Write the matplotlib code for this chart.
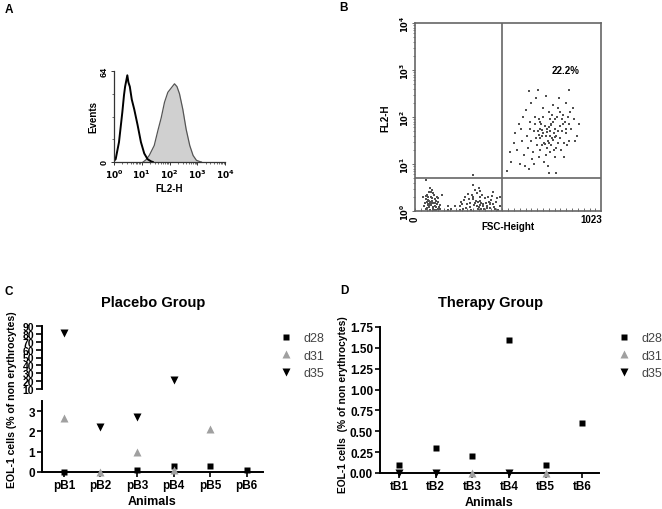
import numpy as np
import matplotlib
matplotlib.use("Agg")
import matplotlib.pyplot as plt
from matplotlib.lines import Line2D
from matplotlib.ticker import FixedLocator, NullFormatter, LogLocator

plt.rcParams['font.family'] = ['Liberation Sans', 'DejaVu Sans']

# ---------------- data ----------------
# Panel A: histograms (log10 FL2-H, events)
open_logx = [-0.05, 0.06, 0.18, 0.30, 0.36, 0.40, 0.44, 0.48, 0.52, 0.57, 0.64, 0.73, 0.85, 0.97, 1.09, 1.21, 1.33, 1.40]
open_cnt = [0, 2, 14, 35, 47, 53, 57, 61, 56, 53, 44, 37, 26, 14, 6, 2, 0.5, 0]
fill_logx = [1.05, 1.15, 1.27, 1.45, 1.58, 1.70, 1.82, 1.94, 2.06, 2.18, 2.27, 2.36, 2.48, 2.60, 2.73, 2.85, 2.97, 3.09, 3.15]
fill_cnt = [0, 1.5, 4.6, 11.6, 22, 31, 42, 49, 52, 55, 53, 48, 37, 23, 11.6, 4.6, 1.2, 0.3, 0]

# Panel B: dot plot (FSC-Height, log10 FL2-H)
c1_x = [640, 655, 670, 685, 700, 715, 730, 745, 760, 775, 690, 705, 720, 735, 750, 765, 780, 795, 810, 825,
        600, 615, 630, 645, 660, 675, 710, 725, 740, 755, 770, 785, 800, 815, 830, 845, 860, 875, 890, 900,
        560, 575, 590, 605, 620, 635, 650, 665, 680, 695, 712, 728, 742, 758, 772, 788, 803, 818, 833, 848,
        530, 545, 585, 610, 625, 640, 655, 668, 682, 698, 718, 732, 748, 762, 778, 792, 808, 822, 838, 855,
        505, 520, 550, 570, 595, 628, 662, 688, 702, 722, 738, 752, 768, 784, 798, 812, 828, 842, 868, 880,
        738, 775, 674, 848, 705, 690, 745, 725, 760, 700, 735, 680, 770, 715, 750]
c1_ly = [1.50, 1.70, 1.40, 1.90, 1.60, 1.80, 1.50, 1.70, 1.90, 1.60, 1.30, 2.00, 1.20, 2.10, 1.40, 1.30, 2.00, 1.80, 1.70, 1.90,
         1.20, 1.60, 1.90, 1.10, 2.00, 1.70, 1.45, 1.75, 1.95, 1.55, 1.75, 1.45, 1.55, 2.05, 1.65, 1.85, 1.75, 1.95, 1.60, 1.85,
         1.30, 1.00, 1.50, 0.95, 1.35, 1.75, 1.25, 1.55, 1.15, 1.85, 1.05, 1.35, 1.25, 2.25, 1.15, 2.20, 1.30, 1.45, 2.30, 1.50,
         1.05, 1.45, 1.75, 2.15, 0.90, 2.30, 1.00, 2.40, 1.95, 1.40, 2.45, 0.95, 1.85, 1.65, 1.35, 2.40, 1.95, 1.15, 1.40, 2.10,
         0.85, 1.25, 1.65, 1.85, 2.00, 2.55, 1.85, 1.75, 2.20, 1.60, 1.45, 2.05, 1.95, 1.70, 2.10, 1.85, 1.75, 2.00, 2.20, 1.50,
         0.80, 0.80, 2.58, 2.58, 1.65, 1.55, 1.60, 1.68, 1.52, 1.72, 1.78, 1.62, 1.58, 1.42, 1.82]
c2_x = [50, 58, 62, 66, 70, 74, 78, 82, 86, 90, 94, 98, 102, 106, 110, 114, 118, 122, 126, 130, 135, 140,
        55, 60, 64, 68, 72, 76, 80, 84, 88, 92, 96, 100, 104, 108, 112, 116, 120, 124, 128,
        45, 82, 95, 59, 150, 180, 70, 85, 100, 75]
c2_ly = [0.10, 0.25, 0.05, 0.35, 0.15, 0.30, 0.08, 0.20, 0.40, 0.12, 0.28, 0.05, 0.18, 0.33, 0.10, 0.22, 0.02, 0.15, 0.27, 0.08, 0.12, 0.04,
         0.18, 0.32, 0.20, 0.07, 0.24, 0.40, 0.13, 0.03, 0.30, 0.22, 0.16, 0.38, 0.02, 0.26, 0.17, 0.08, 0.30, 0.05, 0.20,
         0.30, 0.50, 0.45, 0.65, 0.35, 0.10, 0.12, 0.16, 0.09, 0.21]
c3_x = [245, 255, 265, 275, 285, 295, 305, 315, 325, 335, 345, 355, 365, 375, 385, 395, 405, 415, 425, 435, 445, 455,
        250, 260, 270, 280, 290, 300, 310, 320, 330, 340, 350, 360, 370, 380, 390, 400, 410, 420, 430, 440, 450,
        330, 350, 360, 320, 430, 200, 220, 180, 470, 465, 320, 345, 355, 365, 340, 321, 375, 395, 410]
c3_ly = [0.10, 0.20, 0.05, 0.30, 0.15, 0.25, 0.08, 0.35, 0.12, 0.22, 0.04, 0.30, 0.18, 0.10, 0.28, 0.06, 0.20, 0.14, 0.32, 0.09, 0.20, 0.03,
         0.02, 0.14, 0.24, 0.06, 0.36, 0.18, 0.02, 0.26, 0.16, 0.38, 0.08, 0.22, 0.34, 0.04, 0.16, 0.30, 0.07, 0.24, 0.15, 0.05, 0.27,
         0.45, 0.50, 0.42, 0.55, 0.40, 0.05, 0.10, 0.02, 0.10, 0.30, 0.30, 0.20, 0.12, 0.05, 0.10, 0.76, 0.14, 0.11, 0.18]
quad_x = 478
quad_y = 5.0
pct_label = "22.2%"

# Panels C and D
days = ["d28", "d31", "d35"]
placebo_animals = ["pB1", "pB2", "pB3", "pB4", "pB5", "pB6"]
placebo_d28 = [0.0, np.nan, 0.1, 0.3, 0.3, 0.1]
placebo_d31 = [2.65, 0.0, 1.0, 0.08, 2.1, np.nan]
placebo_d35 = [81, 2.2, 2.7, 22, np.nan, np.nan]
therapy_animals = ["tB1", "tB2", "tB3", "tB4", "tB5", "tB6"]
therapy_d28 = [0.1, 0.3, 0.2, 1.6, 0.1, 0.6]
therapy_d31 = [np.nan, np.nan, 0.0, np.nan, 0.0, np.nan]
therapy_d35 = [0.0, 0.0, np.nan, 0.0, np.nan, np.nan]

# ---------------- figure ----------------
W, H = 662, 510
fig = plt.figure(figsize=(W / 100, H / 100), dpi=100)


def px_axes(x0, top, x1, bottom):
    return fig.add_axes([x0 / W, 1 - bottom / H, (x1 - x0) / W, (bottom - top) / H])


def ftext(x, y, s, **kw):
    fig.text(x / W, 1 - y / H, s, **kw)


# ---- Panel A ----
axA = px_axes(114, 72, 225, 163)
ox = [10 ** v for v in open_logx]
fx = [10 ** v for v in fill_logx]
axA.fill_between(fx, fill_cnt, 0, color='#d0d0d0', lw=0)
axA.plot(fx, fill_cnt, color='#555555', lw=0.9)
axA.plot(ox, open_cnt, color='black', lw=1.4)
axA.set_xscale('log')
axA.set_xlim(1, 1e4)
axA.set_ylim(0, 64)
for s in ['top', 'right']:
    axA.spines[s].set_visible(False)
for s in ['left', 'bottom']:
    axA.spines[s].set_color('#333333')
    axA.spines[s].set_linewidth(0.9)
axA.set_xticks([1, 10, 100, 1000, 10000])
axA.set_xticklabels([r'$\mathbf{10^{%d}}$' % i for i in range(5)], fontsize=6.5)
axA.xaxis.set_minor_locator(LogLocator(base=10, subs=np.arange(2, 10), numticks=20))
axA.xaxis.set_minor_formatter(NullFormatter())
axA.set_yticks([0, 64])
axA.set_yticklabels(['0', '64'], rotation=90, va='center', fontsize=6.5, fontweight='bold')
axA.yaxis.set_minor_locator(FixedLocator([16, 32, 48]))
axA.tick_params(axis='both', which='major', length=2.5, width=0.7, pad=1.5, colors='#333333', labelcolor='black')
axA.tick_params(axis='both', which='minor', length=1.5, width=0.5, colors='#333333')
axA.set_xlabel('FL2-H', fontsize=7, fontweight='bold', labelpad=2)
axA.set_ylabel('Events', fontsize=7, fontweight='bold', labelpad=1)

# ---- Panel B ----
axB = px_axes(415, 24, 601, 212)
xs = c2_x + c3_x
ys = [10 ** v for v in (c2_ly + c3_ly)]
axB.scatter(xs, ys, s=2.0, c='#505050', marker='s', lw=0)
axB.scatter(c1_x, [10 ** v for v in c1_ly], s=2.0, c='#505050', marker='s', lw=0)
axB.set_yscale('log')
axB.set_xlim(0, 1023)
axB.set_ylim(1, 1e4)
axB.axvline(quad_x, color='#666666', lw=1.2)
axB.axhline(quad_y, color='#666666', lw=1.2)
for s in axB.spines.values():
    s.set_color('#666666')
    s.set_linewidth(1.2)
axB.set_xticks(np.arange(0, 1024, 32))
axB.set_xticklabels([])
axB.tick_params(axis='x', direction='in', length=2, width=0.6, colors='#555555')
axB.set_yticks([1, 10, 100, 1000, 10000])
axB.set_yticklabels([r'$\mathbf{10^{%d}}$' % i for i in range(5)], rotation=90, va='center', fontsize=6)
axB.yaxis.set_minor_locator(LogLocator(base=10, subs=np.arange(2, 10), numticks=20))
axB.yaxis.set_minor_formatter(NullFormatter())
axB.tick_params(axis='y', which='major', length=2, width=0.6, pad=1, colors='#555555', labelcolor='black')
axB.tick_params(axis='y', which='minor', length=1.2, width=0.5, colors='#555555')
ftext(415, 219, '0', rotation=90, ha='center', va='center', fontsize=7, fontweight='bold')
ftext(591, 220, '1023', ha='center', va='center', fontsize=7, fontweight='bold')
ftext(508, 227, 'FSC-Height', ha='center', va='center', fontsize=7, fontweight='bold')
ftext(385, 118, 'FL2-H', rotation=90, ha='center', va='center', fontsize=7, fontweight='bold')
ftext(566, 71, pct_label, ha='center', va='center', fontsize=7, fontweight='bold')

# ---- Panel labels ----
ftext(9, 10, 'A', ha='center', va='center', fontsize=8.5, fontweight='bold')
ftext(344, 8, 'B', ha='center', va='center', fontsize=8.5, fontweight='bold')
ftext(9, 292, 'C', ha='center', va='center', fontsize=8.5, fontweight='bold')
ftext(344, 291, 'D', ha='center', va='center', fontsize=8.5, fontweight='bold')

mk = dict(d28=dict(marker='s', color='black', ms=4.8),
          d31=dict(marker='^', color='#a0a0a0', ms=5.5),
          d35=dict(marker='v', color='black', ms=5.5))


def style_ax(ax):
    for s in ['top', 'right']:
        ax.spines[s].set_visible(False)
    for s in ['left', 'bottom']:
        ax.spines[s].set_linewidth(1.4)
    ax.tick_params(axis='both', length=3.5, width=1.2, pad=1.5, labelsize=8.5)
    for lab in ax.get_xticklabels() + ax.get_yticklabels():
        lab.set_fontweight('bold')


def plot_series(ax, cats, series, lo=-np.inf, hi=np.inf):
    xpos = np.arange(len(cats))
    for name, vals in series:
        v = np.array(vals, dtype=float)
        v = np.where((v >= lo) & (v <= hi), v, np.nan)
        ax.plot(xpos, v, ls='none', clip_on=False, zorder=5, mec='none', **mk[name])


def legend_at(x, y):
    handles = [Line2D([], [], ls='none', mec='none', **mk[d]) for d in days]
    leg = fig.legend(handles, days, loc='upper left', bbox_to_anchor=(x / W, 1 - y / H),
                     frameon=False, fontsize=9, handlelength=1.0, handletextpad=0.9,
                     labelspacing=0.45, borderpad=0, borderaxespad=0)
    for t in leg.get_texts():
        t.set_color('#444444')


# ---- Panel C ----
axCt = px_axes(42, 327, 263, 390)
axCb = px_axes(42, 402, 263, 473)
xlimC = (-0.6, 5.45)
for ax in (axCt, axCb):
    ax.set_xlim(*xlimC)
axCt.set_ylim(10, 90)
axCb.set_ylim(0, 3.5)
seriesC = [('d28', placebo_d28), ('d31', placebo_d31), ('d35', placebo_d35)]
plot_series(axCt, placebo_animals, seriesC, lo=10, hi=90)
plot_series(axCb, placebo_animals, seriesC, lo=0, hi=3.5)
axCt.set_yticks(np.arange(10, 91, 10))
axCt.set_xticks([])
axCt.spines['bottom'].set_visible(False)
axCb.set_yticks([0, 1, 2, 3])
axCb.set_xticks(np.arange(len(placebo_animals)))
axCb.set_xticklabels(placebo_animals)
style_ax(axCt)
style_ax(axCb)
axCt.tick_params(axis='y', labelsize=7.5, length=4)
axCb.set_xlabel('Animals', fontsize=9, fontweight='bold', labelpad=3)
ftext(12, 400, 'EOL-1 cells (% of non erythrocytes)', rotation=90, ha='center', va='center',
      fontsize=7.6, fontweight='bold')
ftext(153, 303, 'Placebo Group', ha='center', va='center', fontsize=10.5, fontweight='bold')
legend_at(280, 333)

# ---- Panel D ----
axD = px_axes(380, 328, 599, 474)
axD.set_xlim(-0.52, 5.45)
axD.set_ylim(0, 1.75)
plot_series(axD, therapy_animals,
            [('d28', therapy_d28), ('d31', therapy_d31), ('d35', therapy_d35)])
axD.set_yticks(np.arange(0, 1.76, 0.25))
axD.set_yticklabels(['%.2f' % v for v in np.arange(0, 1.76, 0.25)])
axD.set_xticks(np.arange(len(therapy_animals)))
axD.set_xticklabels(therapy_animals)
style_ax(axD)
axD.set_xlabel('Animals', fontsize=9, fontweight='bold', labelpad=3)
ftext(343, 405, 'EOL-1 cells  (% of non erythrocytes)', rotation=90, ha='center', va='center',
      fontsize=7.4, fontweight='bold')
ftext(491, 303, 'Therapy Group', ha='center', va='center', fontsize=10.5, fontweight='bold')
legend_at(618, 333)

fig.savefig('out.png', dpi=100)
